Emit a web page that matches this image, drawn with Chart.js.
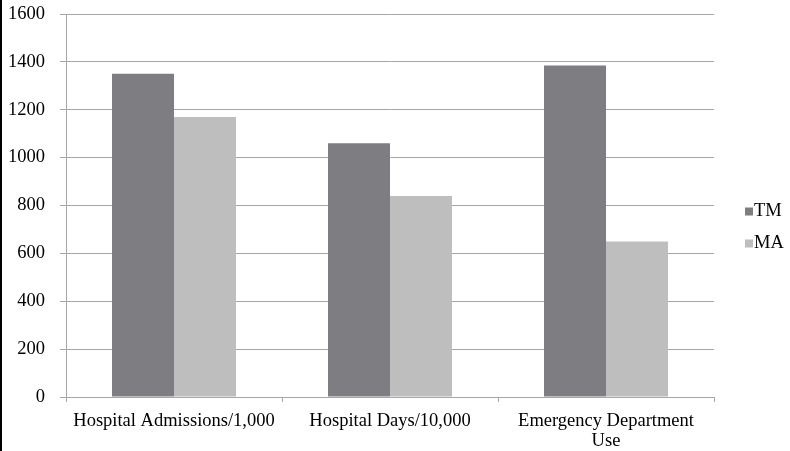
<!DOCTYPE html>
<html>
<head>
<meta charset="utf-8">
<script src="https://cdn.jsdelivr.net/npm/chart.js@4.4.0/dist/chart.umd.min.js"></script>
<style>
  html, body { margin: 0; padding: 0; background: #fff; }
  #wrap { position: absolute; left: 0; top: 0; width: 788px; height: 451px; border-left: 2px solid #000; }
  canvas { display: block; }
</style>
</head>
<body>
<div id="wrap"><canvas id="c" width="788" height="451"></canvas></div>
<script>
const categories = ["Hospital Admissions/1,000", "Hospital Days/10,000", ["Emergency Department", "Use"]];
const seriesNames = ["TM", "MA"];
const tmValues = [1350, 1060, 1385];
const maValues = [1170, 840, 650];
const yTicks = [0, 200, 400, 600, 800, 1000, 1200, 1400, 1600];

const FONT = "'Liberation Serif', 'Times New Roman', serif";
const FS = 18.5;
const gridColor = "#a6a6a6";

// Legend drawn from the datasets (labels and colours) at the right of the plot
const sideLegend = {
  id: "sideLegend",
  afterDraw(chart) {
    const ctx = chart.ctx;
    const area = chart.chartArea;
    const x0 = area.right + 31;
    const yStart = 211.5;
    const step = 32;
    ctx.save();
    ctx.font = FS + "px " + FONT;
    ctx.textBaseline = "middle";
    ctx.textAlign = "left";
    chart.data.datasets.forEach((ds, i) => {
      const cy = yStart + i * step;
      ctx.fillStyle = ds.backgroundColor;
      ctx.fillRect(x0, cy - 4, 8, 8);
      ctx.fillStyle = "#000";
      ctx.fillText(ds.label, x0 + 9, cy);
    });
    ctx.restore();
  }
};

new Chart(document.getElementById("c"), {
  type: "bar",
  data: {
    labels: categories,
    datasets: [
      { label: seriesNames[0], data: tmValues, backgroundColor: "#7e7e82", borderWidth: 0 },
      { label: seriesNames[1], data: maValues, backgroundColor: "#bebebf", borderWidth: 0 }
    ]
  },
  plugins: [sideLegend],
  options: {
    responsive: false,
    animation: false,
    layout: { padding: { top: 14, right: 76, bottom: 0, left: 0 } },
    datasets: { bar: { barPercentage: 1.0, categoryPercentage: 0.574 } },
    plugins: {
      tooltip: { enabled: false },
      legend: { display: false }
    },
    scales: {
      x: {
        afterFit: (s) => { s.height = 54; s.paddingLeft = 0; s.paddingRight = 0; },
        grid: { drawOnChartArea: false, drawTicks: true, tickLength: 5, color: gridColor, offset: true },
        border: { color: gridColor },
        ticks: { color: "#000", font: { family: FONT, size: FS, lineHeight: 1.08 }, maxRotation: 0, autoSkip: false, padding: 9 }
      },
      y: {
        min: 0, max: 1600,
        afterBuildTicks: (s) => { s.ticks = yTicks.map(v => ({ value: v })); },
        afterFit: (s) => { s.width = 64; s.paddingTop = 0; s.paddingBottom = 0; },
        grid: { color: gridColor, tickLength: 6 },
        border: { color: gridColor },
        ticks: { color: "#000", font: { family: FONT, size: FS }, padding: 15, callback: (v) => String(v) }
      }
    }
  }
});
</script>
</body>
</html>
